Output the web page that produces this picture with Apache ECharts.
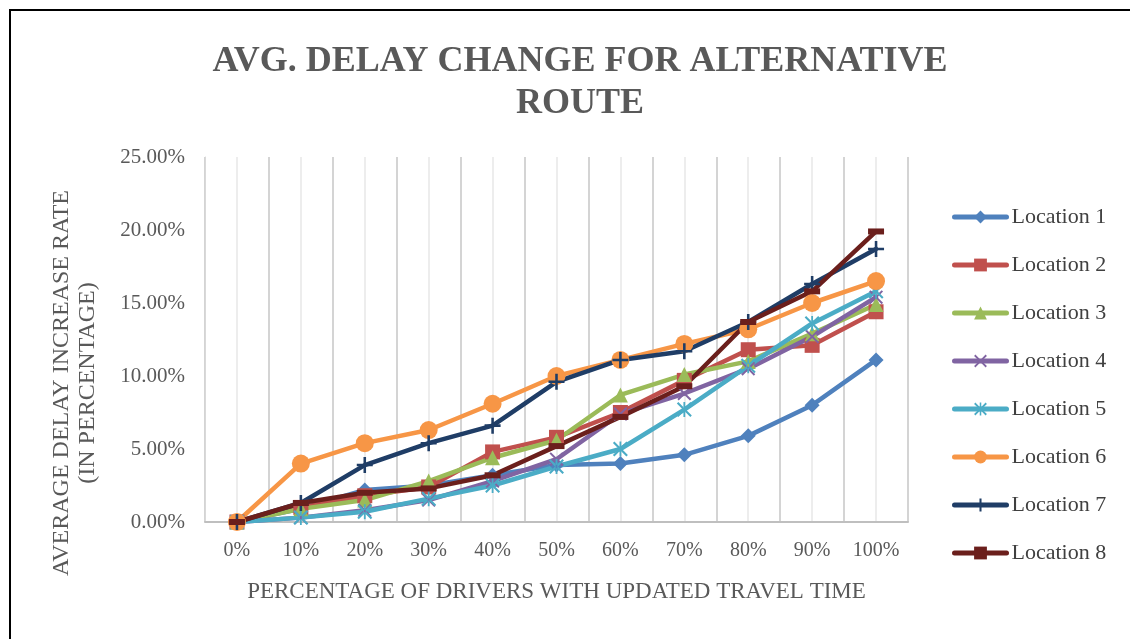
<!DOCTYPE html>
<html>
<head>
<meta charset="utf-8">
<script src="https://cdn.jsdelivr.net/npm/echarts@6/dist/echarts.min.js"></script>
<style>
  html, body { margin: 0; padding: 0; background: #fff; }
  #main { width: 1130px; height: 639px; }
</style>
</head>
<body>
<div id="main"></div>
<script>
// x categories (percentage of drivers with updated travel time)
var categories = ['0%', '10%', '20%', '30%', '40%', '50%', '60%', '70%', '80%', '90%', '100%'];

// avg delay increase rate, in percent
var loc1 = [0, 0.9, 2.2, 2.5, 3.2, 3.9, 4.0, 4.6, 5.9, 8.0, 11.1];
var loc2 = [0, 1.0, 1.8, 2.4, 4.8, 5.8, 7.5, 9.7, 11.8, 12.1, 14.4];
var loc3 = [0, 0.9, 1.5, 2.8, 4.4, 5.6, 8.7, 10.1, 11.0, 12.9, 14.9];
var loc4 = [0, 0.3, 0.8, 1.5, 2.8, 4.3, 7.4, 8.8, 10.5, 12.7, 15.4];
var loc5 = [0, 0.3, 0.7, 1.6, 2.5, 3.8, 5.0, 7.7, 10.7, 13.6, 15.8];
var loc6 = [0, 4.0, 5.4, 6.3, 8.1, 10.0, 11.1, 12.2, 13.2, 15.0, 16.5];
var loc7 = [0, 1.3, 3.9, 5.4, 6.6, 9.6, 11.1, 11.7, 13.7, 16.3, 18.7];
var loc8 = [0, 1.3, 2.0, 2.3, 3.2, 5.2, 7.2, 9.3, 13.7, 15.8, 19.9];

var seriesNames = ['Location 1', 'Location 2', 'Location 3', 'Location 4',
	'Location 5', 'Location 6', 'Location 7', 'Location 8'];
var seriesData = [loc1, loc2, loc3, loc4, loc5, loc6, loc7, loc8];
var colors = ['#4F81BD', '#C0504D', '#9BBB59', '#8064A2', '#4BACC6', '#F79646', '#1F3D66', '#6B1F1C'];

var FONT = '"Liberation Serif", "Times New Roman", serif';
var TXT = '#595959';

// marker shapes, excel style
var plusPath = 'path://M4.2,0 H5.8 V4.2 H10 V5.8 H5.8 V10 H4.2 V5.8 H0 V4.2 H4.2 Z';
var crossPath = 'path://M0,1 L1,0 L5,4 L9,0 L10,1 L6,5 L10,9 L9,10 L5,6 L1,10 L0,9 L4,5 Z';
var starPath = 'path://M0,1 L1,0 L5,4 L9,0 L10,1 L6,5 L10,9 L9,10 L5,6 L1,10 L0,9 L4,5 Z M4.4,0 L4.4,10 L5.6,10 L5.6,0 Z';
var symbols = ['diamond', 'rect', 'triangle', crossPath, starPath, 'circle', plusPath, 'rect'];
var symbolSizes = [15, 15, 15, 14, 15, 18, 16, [16, 6]];

function buildSeries() {
	var list = [];
	for (var i = 0; i < seriesNames.length; i++) {
		list.push({
			name: seriesNames[i],
			type: 'line',
			xAxisIndex: 0,
			yAxisIndex: 0,
			data: seriesData[i],
			symbol: symbols[i],
			symbolSize: symbolSizes[i],
			showAllSymbol: true,
			lineStyle: { width: 4.5, color: colors[i], cap: 'round', join: 'round' },
			itemStyle: { color: colors[i], borderColor: colors[i], borderWidth: 0 },
			emphasis: { disabled: true },
			animation: false
		});
	}
	return list;
}

var option = {
	color: colors,
	animation: false,
	title: {
		text: 'AVG. DELAY CHANGE FOR ALTERNATIVE\nROUTE',
		left: 575,
		top: 36,
		textAlign: 'center',
		textStyle: {
			fontFamily: FONT,
			fontSize: 36,
			fontWeight: 'bold',
			color: TXT,
			lineHeight: 42
		}
	},
	grid: {
		left: 205,
		right: 222,
		top: 157,
		bottom: 117
	},
	legend: {
		orient: 'vertical',
		left: 947,
		top: 201,
		itemWidth: 52,
		itemHeight: 16,
		itemGap: 26,
		data: seriesNames,
		lineStyle: { width: 5 },
		textStyle: {
			fontFamily: FONT,
			fontSize: 22,
			color: '#404040'
		}
	},
	xAxis: [{
		type: 'category',
		data: categories,
		boundaryGap: true,
		name: 'PERCENTAGE OF DRIVERS WITH UPDATED TRAVEL TIME',
		nameLocation: 'middle',
		nameGap: 58,
		nameTextStyle: {
			fontFamily: FONT,
			fontSize: 23,
			color: TXT
		},
		axisLine: { lineStyle: { color: '#BFBFBF', width: 2 } },
		axisTick: { show: false },
		axisLabel: {
			fontFamily: FONT,
			fontSize: 20,
			color: TXT,
			margin: 19,
			interval: 0
		},
		splitLine: { show: false }
	}, {
		// hidden helper axis, only draws the vertical grid (boundary + mid lines)
		type: 'value',
		min: 0,
		max: 22,
		interval: 1,
		position: 'top',
		axisLine: { show: false },
		axisTick: { show: false },
		axisLabel: { show: false },
		splitLine: {
			show: true,
			lineStyle: { color: ['#D4D4D4', '#EDEDED'], width: 2 }
		}
	}],
	yAxis: [{
		type: 'value',
		min: 0,
		max: 25,
		interval: 5,
		axisLine: { show: true, lineStyle: { color: '#D9D9D9', width: 1 } },
		axisTick: { show: false },
		axisLabel: {
			fontFamily: FONT,
			fontSize: 21,
			color: TXT,
			margin: 20,
			formatter: function (val) {
				return val.toFixed(2) + '%';
			}
		},
		splitLine: { show: false }
	}],
	graphic: [{
		type: 'rect',
		silent: true,
		shape: { x: 10, y: 10, width: 1300, height: 800 },
		style: { fill: null, stroke: '#000', lineWidth: 2 }
	}, {
		type: 'text',
		silent: true,
		x: 75,
		y: 383,
		rotation: Math.PI / 2,
		style: {
			text: 'AVERAGE DELAY INCREASE RATE\n(IN PERCENTAGE)',
			font: '24px ' + FONT,
			fill: TXT,
			align: 'center',
			verticalAlign: 'middle',
			lineHeight: 26
		}
	}],
	series: buildSeries()
};

var myChart = echarts.init(document.getElementById('main'));
myChart.setOption(option);
</script>
</body>
</html>
